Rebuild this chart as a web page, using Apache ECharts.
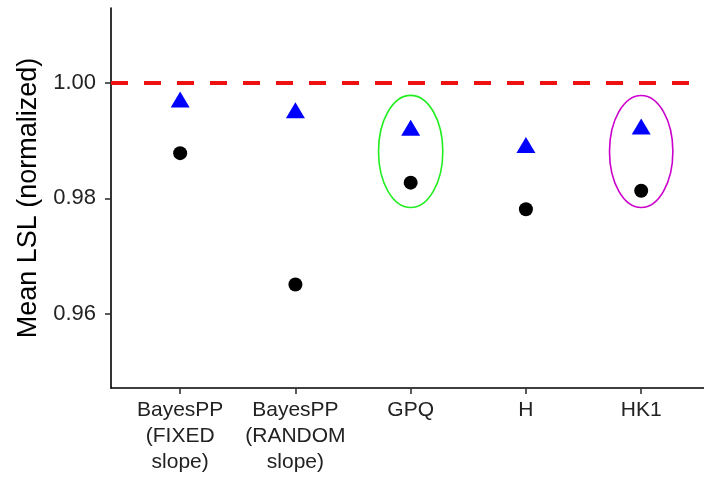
<!DOCTYPE html>
<html>
<head>
<meta charset="utf-8">
<script src="https://cdn.jsdelivr.net/npm/echarts@6/dist/echarts.min.js"></script>
<style>html,body{margin:0;padding:0;background:#fff}#c{width:704px;height:479px}</style>
</head>
<body>
<div id="c"></div>
<script>
var categories = ['BayesPP\n(FIXED\nslope)', 'BayesPP\n(RANDOM\nslope)', 'GPQ', 'H', 'HK1'];
var circleValues = [0.9878, 0.9651, 0.9827, 0.9781, 0.9813];
var triangleValues = [0.9971, 0.9952, 0.9922, 0.9892, 0.9924];
var yTicks = [0.96, 0.98, 1.00];
var referenceValue = 1.00;
// highlight ellipses: [category index, centre value, half width (category units), half height (value units), colour]
var highlights = [
  [2, 0.9881, 0.279, 0.00970, '#22ee22'],
  [4, 0.9881, 0.275, 0.00968, '#cc00cc']
];

var chart = echarts.init(document.getElementById('c'), null, {renderer: 'canvas'});
var font = 'Liberation Sans, Arial, sans-serif';
chart.setOption({
  animation: false,
  backgroundColor: '#ffffff',
  grid: {left: 111, right: 0, top: 8, height: 380, containLabel: false},
  xAxis: {
    type: 'value', min: -0.6, max: 4.545,
    splitLine: {show: false},
    axisLine: {show: true, onZero: false, lineStyle: {color: '#000', width: 1.6}},
    axisTick: {show: true, length: 6, lineStyle: {color: '#333', width: 1.6}, customValues: [0,1,2,3,4]},
    axisLabel: {
      customValues: [0,1,2,3,4],
      formatter: function (v) { return categories[Math.round(v)]; },
      color: '#222', fontFamily: font, fontSize: 21, lineHeight: 26, margin: 9, align: 'center'
    }
  },
  yAxis: {
    type: 'value', min: 0.9472, max: 1.0129,
    name: 'Mean LSL (normalized)', nameLocation: 'middle', nameGap: 69,
    nameTextStyle: {color: '#000', fontFamily: font, fontSize: 27},
    splitLine: {show: false},
    axisLine: {show: true, onZero: false, lineStyle: {color: '#000', width: 1.6}},
    axisTick: {show: true, length: 6, lineStyle: {color: '#333', width: 1.6}, customValues: yTicks},
    axisLabel: {
      customValues: yTicks,
      formatter: function (v) { return v.toFixed(2); },
      color: '#222', fontFamily: font, fontSize: 22, margin: 15
    }
  },
  series: [
    {
      type: 'custom',
      renderItem: function (params, api) {
        var c = api.coord([api.value(0), api.value(1)]);
        var s = api.size([api.value(2), api.value(3)]);
        return {
          type: 'ellipse',
          shape: {cx: c[0], cy: c[1], rx: s[0], ry: s[1]},
          style: {fill: 'none', stroke: highlights[params.dataIndex][4], lineWidth: 1.6}
        };
      },
      data: highlights.map(function (h) { return [h[0], h[1], h[2], h[3]]; }),
      z: 1, silent: true
    },
    {
      type: 'scatter',
      data: triangleValues.map(function (v, i) { return [i, v]; }),
      symbol: 'triangle', symbolSize: [19, 16],
      itemStyle: {color: '#0000ff', opacity: 1},
      z: 3
    },
    {
      type: 'scatter',
      data: circleValues.map(function (v, i) { return [i, v]; }),
      symbol: 'circle', symbolSize: 14,
      itemStyle: {color: '#000000', opacity: 1},
      z: 3,
      markLine: {
        silent: true, symbol: ['none', 'none'],
        label: {show: false},
        lineStyle: {color: '#ee1111', width: 4, type: [17, 16]},
        data: [{yAxis: referenceValue}]
      }
    }
  ]
});
</script>
</body>
</html>
